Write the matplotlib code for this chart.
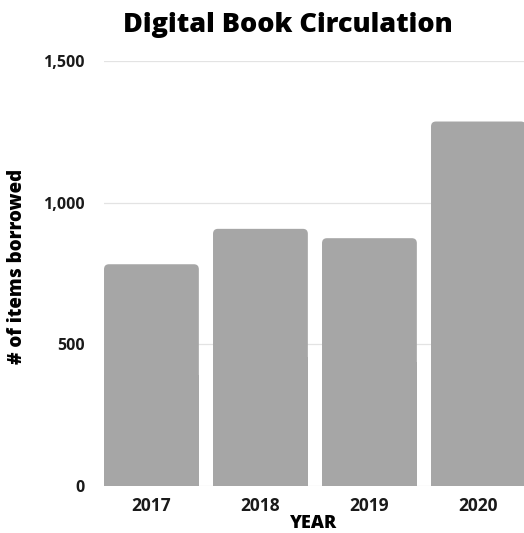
import matplotlib
matplotlib.use("Agg")
import matplotlib.pyplot as plt
from matplotlib.patches import FancyBboxPatch
from matplotlib.ticker import FuncFormatter

years = ["2017", "2018", "2019", "2020"]
borrowed = [783, 908, 875, 1287]
yticks = [0, 500, 1000, 1500]

BAR_COLOR = "#a6a6a6"


def main():
    plt.rcParams["font.family"] = ["Open Sans", "DejaVu Sans"]
    fig = plt.figure(figsize=(5.24, 5.33), dpi=100)
    ax = fig.add_axes([0.1985, 0.0882, 0.8015, 0.797])

    width = 0.87
    bars = ax.bar(range(len(years)), borrowed, width=width, color="none")

    # rounded top corners: radius ~5px, aspect from axis scales
    rx = 0.045
    aspect = (5 / 0.2831) / rx
    for b in bars:
        x, w, h = b.get_x(), b.get_width(), b.get_height()
        ax.add_patch(FancyBboxPatch((x + rx, 0), w - 2 * rx, h - rx * aspect,
                                    boxstyle=f"round,pad={rx}",
                                    mutation_aspect=aspect,
                                    fc=BAR_COLOR, ec="none", zorder=3))
        ax.add_patch(plt.Rectangle((x, 0), w, h / 2, fc=BAR_COLOR,
                                   ec="none", zorder=3))

    ax.set_xlim(-0.435, 3.418)
    ax.set_ylim(0, 1500)
    ax.set_xticks(range(len(years)))
    ax.set_xticklabels(years)
    ax.set_yticks(yticks)
    ax.yaxis.set_major_formatter(FuncFormatter(lambda v, p: f"{int(v):,}"))
    ax.grid(axis="y", color="#e3e3e3", linewidth=0.9, zorder=0)
    ax.set_axisbelow(True)
    for s in ax.spines.values():
        s.set_visible(False)
    ax.tick_params(axis="both", length=0)
    ax.tick_params(axis="y", pad=14, labelsize=11.5)
    ax.tick_params(axis="x", pad=8, labelsize=12.5)
    for lab in ax.get_xticklabels() + ax.get_yticklabels():
        lab.set_fontweight("bold")
        lab.set_color("#1a1a1a")

    ax.set_xlabel("YEAR", fontsize=13, fontweight="heavy", labelpad=0)
    fig.text(17 / 524, 1 - 266 / 533, "# of items borrowed", rotation=90,
             ha="center", va="center", fontsize=13.5, fontweight="heavy")
    fig.text(0.549, 1 - 32.3 / 533, "Digital Book Circulation", ha="center",
             va="baseline", fontsize=19.5, fontweight="heavy")

    fig.savefig("out.png", dpi=100)


if __name__ == "__main__":
    main()
